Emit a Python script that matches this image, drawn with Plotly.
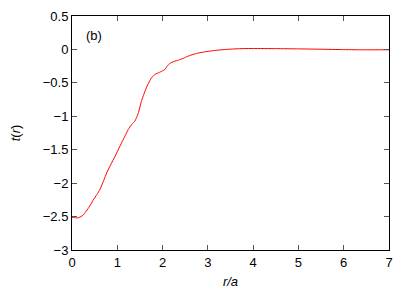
import plotly.graph_objects as go

r_over_a = [0.0, 0.05, 0.1, 0.15, 0.2, 0.25, 0.3, 0.36, 0.42, 0.47, 0.55, 0.62, 0.7, 0.77,
            0.85, 0.95, 1.05, 1.13, 1.24, 1.32, 1.39, 1.46, 1.54, 1.65, 1.76, 1.84, 1.91,
            2.0, 2.05, 2.1, 2.16, 2.25, 2.35, 2.45, 2.53, 2.65, 2.75, 2.9, 3.05, 3.2, 3.41,
            3.6, 3.8, 4.0, 4.5, 5.0, 5.5, 6.0, 6.5, 7.0]
t_r = [-2.51, -2.515, -2.52, -2.515, -2.50, -2.475, -2.43, -2.375, -2.31, -2.25, -2.17,
       -2.09, -1.96, -1.84, -1.73, -1.60, -1.46, -1.35, -1.20, -1.12, -1.07, -0.96, -0.76,
       -0.56, -0.42, -0.37, -0.35, -0.32, -0.30, -0.25, -0.21, -0.18, -0.16, -0.135, -0.11,
       -0.08, -0.06, -0.04, -0.024, -0.012, 0.0, 0.008, 0.013, 0.014, 0.012, 0.008, 0.003,
       -0.003, -0.006, -0.005]

x_ticks = [0, 1, 2, 3, 4, 5, 6, 7]
y_ticks = [0.5, 0, -0.5, -1, -1.5, -2, -2.5, -3]
y_tick_text = ["0.5", "0", "\u22120.5", "\u22121", "\u22121.5", "\u22122", "\u22122.5", "\u22123"]

fig = go.Figure()
fig.add_trace(go.Scatter(x=r_over_a, y=t_r, mode="lines",
                         line=dict(color="#ff0000", width=1, shape="spline", smoothing=0.5),
                         showlegend=False, hoverinfo="skip"))

font = dict(family="Liberation Sans, Arial, sans-serif", size=13, color="black")
axis_common = dict(showgrid=False, zeroline=False, showline=True, linecolor="black",
                   linewidth=1, mirror="ticks", ticks="inside", ticklen=5,
                   tickcolor="#555555", tickwidth=1, tickfont=font, automargin=False)

fig.update_xaxes(range=[0, 7], tickvals=x_ticks, **axis_common,
                 title=dict(text="<i>r/a</i>", font=font, standoff=8))
fig.update_yaxes(range=[-3, 0.5], tickvals=y_ticks, ticktext=y_tick_text, **axis_common,
                 title=dict(text="<i>t</i>(<i>r</i>)", font=font, standoff=20))

fig.add_annotation(x=0.48, y=0.21, xref="x", yref="y", text="(b)", showarrow=False,
                   font=font)

# page body has an 8px default margin, so shrink the figure accordingly
fig.update_layout(width=401, height=284, margin=dict(l=64, r=20, t=8, b=42),
                  paper_bgcolor="white", plot_bgcolor="white")

fig.write_html("out.html")
